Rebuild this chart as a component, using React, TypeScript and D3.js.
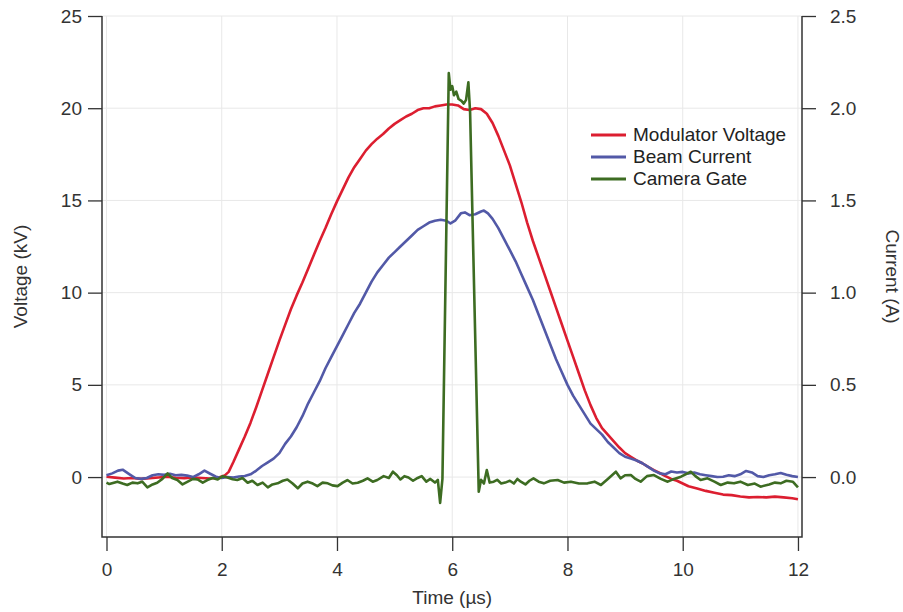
import { useEffect, useRef } from "react";
import * as d3 from "d3";

// tick values for the three axes
const timeTicks = [0, 2, 4, 6, 8, 10, 12];
const voltageTicks = [0, 5, 10, 15, 20, 25];
const currentTicks = [0, 0.5, 1.0, 1.5, 2.0, 2.5];

// [time (µs), voltage (kV)]
const modulatorVoltage: [number, number][] = [
  [0, 0.02], [0.15, -0.03], [0.3, -0.08], [0.45, -0.05], [0.6, -0.1], [0.75, -0.06],
  [0.9, -0.02], [1.05, 0.02], [1.2, -0.04], [1.35, -0.06], [1.5, -0.02], [1.65, -0.05],
  [1.8, -0.08], [1.95, -0.02], [2.05, 0.08], [2.12, 0.28], [2.2, 0.8], [2.3, 1.5],
  [2.4, 2.2], [2.5, 2.95], [2.6, 3.8], [2.7, 4.7], [2.8, 5.6], [2.9, 6.5], [3.0, 7.4],
  [3.1, 8.25], [3.2, 9.1], [3.3, 9.85], [3.4, 10.55], [3.5, 11.3], [3.6, 12.05],
  [3.7, 12.8], [3.8, 13.5], [3.9, 14.25], [4.0, 14.95], [4.1, 15.6], [4.2, 16.25],
  [4.3, 16.8], [4.4, 17.25], [4.5, 17.7], [4.6, 18.05], [4.7, 18.35], [4.8, 18.6],
  [4.9, 18.9], [5.0, 19.15], [5.1, 19.35], [5.2, 19.55], [5.3, 19.7], [5.4, 19.9],
  [5.5, 20.0], [5.6, 20.0], [5.7, 20.1], [5.8, 20.15], [5.9, 20.2], [6.0, 20.2],
  [6.1, 20.15], [6.2, 19.95], [6.3, 19.9], [6.4, 20.0], [6.5, 19.95], [6.6, 19.7],
  [6.7, 19.2], [6.8, 18.5], [6.9, 17.7], [7.0, 16.9], [7.1, 15.9], [7.2, 14.9],
  [7.3, 13.8], [7.4, 12.8], [7.5, 11.9], [7.6, 11.0], [7.7, 10.1], [7.8, 9.2],
  [7.9, 8.3], [8.0, 7.4], [8.1, 6.5], [8.2, 5.6], [8.3, 4.7], [8.4, 3.9], [8.5, 3.2],
  [8.6, 2.65], [8.7, 2.3], [8.8, 1.95], [8.9, 1.6], [9.0, 1.3], [9.1, 1.1], [9.2, 0.9],
  [9.3, 0.75], [9.4, 0.55], [9.5, 0.38], [9.6, 0.22], [9.7, 0.05], [9.8, -0.1],
  [9.9, -0.2], [10.0, -0.35], [10.1, -0.5], [10.25, -0.62], [10.4, -0.75], [10.55, -0.85],
  [10.7, -0.95], [10.85, -0.98], [11.0, -1.05], [11.15, -1.1], [11.3, -1.08],
  [11.45, -1.1], [11.6, -1.06], [11.75, -1.1], [11.9, -1.15], [12.0, -1.2],
];

// [time (µs), current (A)]
const beamCurrent: [number, number][] = [
  [0, 0.01], [0.1, 0.02], [0.2, 0.035], [0.28, 0.04], [0.4, 0.015], [0.5, -0.005],
  [0.6, -0.01], [0.7, -0.005], [0.8, 0.01], [0.9, 0.015], [1.0, 0.012], [1.1, 0.018],
  [1.2, 0.01], [1.3, 0.012], [1.4, 0.008], [1.5, 0.0], [1.6, 0.015], [1.7, 0.035],
  [1.8, 0.018], [1.9, 0.002], [2.0, -0.005], [2.1, 0.0], [2.2, -0.002], [2.3, 0.003],
  [2.4, 0.006], [2.5, 0.015], [2.6, 0.035], [2.7, 0.06], [2.8, 0.08], [2.9, 0.1],
  [3.0, 0.13], [3.1, 0.18], [3.2, 0.22], [3.3, 0.27], [3.4, 0.33], [3.5, 0.4],
  [3.6, 0.46], [3.7, 0.52], [3.8, 0.59], [3.9, 0.65], [4.0, 0.71], [4.1, 0.77],
  [4.2, 0.83], [4.3, 0.89], [4.4, 0.94], [4.5, 1.0], [4.6, 1.06], [4.7, 1.11],
  [4.8, 1.15], [4.9, 1.19], [5.0, 1.22], [5.1, 1.25], [5.2, 1.28], [5.3, 1.31],
  [5.4, 1.34], [5.5, 1.36], [5.6, 1.38], [5.7, 1.39], [5.8, 1.395], [5.9, 1.39],
  [5.97, 1.375], [6.05, 1.39], [6.15, 1.43], [6.22, 1.435], [6.3, 1.42], [6.4, 1.425],
  [6.5, 1.44], [6.55, 1.445], [6.62, 1.43], [6.7, 1.4], [6.8, 1.35], [6.9, 1.29],
  [7.0, 1.23], [7.1, 1.17], [7.2, 1.1], [7.3, 1.03], [7.4, 0.96], [7.5, 0.88],
  [7.6, 0.8], [7.7, 0.72], [7.8, 0.64], [7.9, 0.57], [8.0, 0.5], [8.1, 0.44],
  [8.2, 0.39], [8.3, 0.34], [8.4, 0.29], [8.5, 0.26], [8.6, 0.23], [8.7, 0.19],
  [8.8, 0.16], [8.9, 0.13], [9.0, 0.11], [9.1, 0.1], [9.2, 0.09], [9.3, 0.075],
  [9.4, 0.055], [9.5, 0.035], [9.6, 0.02], [9.7, 0.015], [9.8, 0.03], [9.9, 0.025],
  [10.0, 0.028], [10.1, 0.02], [10.2, 0.025], [10.3, 0.015], [10.4, 0.01], [10.5, 0.005],
  [10.6, 0.0], [10.7, 0.002], [10.8, 0.01], [10.9, 0.005], [11.0, 0.015], [11.1, 0.033],
  [11.2, 0.025], [11.3, 0.005], [11.4, 0.0], [11.5, 0.01], [11.6, 0.015], [11.7, 0.022],
  [11.8, 0.012], [11.9, 0.005], [12.0, 0.0],
];

// [time (µs), gate signal in kV units]
const cameraGate: [number, number][] = [
  [0, -0.3], [0.05, -0.38], [0.19, -0.25], [0.28, -0.35], [0.36, -0.43], [0.45, -0.3],
  [0.54, -0.34], [0.62, -0.25], [0.71, -0.56], [0.8, -0.4], [0.88, -0.31], [0.97, -0.1],
  [1.06, 0.2], [1.14, -0.05], [1.23, -0.16], [1.32, -0.4], [1.41, -0.25], [1.5, -0.1],
  [1.58, -0.13], [1.67, -0.3], [1.75, -0.16], [1.84, -0.05], [1.93, -0.13], [2.02, 0.05],
  [2.1, -0.02], [2.19, -0.12], [2.27, -0.16], [2.36, -0.05], [2.45, -0.31], [2.53, -0.2],
  [2.62, -0.43], [2.71, -0.3], [2.8, -0.56], [2.88, -0.4], [2.97, -0.34], [3.06, -0.2],
  [3.14, -0.13], [3.23, -0.35], [3.32, -0.61], [3.4, -0.35], [3.49, -0.25], [3.58, -0.35],
  [3.66, -0.49], [3.75, -0.3], [3.84, -0.34], [3.92, -0.45], [4.01, -0.49], [4.1, -0.3],
  [4.18, -0.16], [4.27, -0.35], [4.36, -0.31], [4.45, -0.2], [4.53, -0.07], [4.62, -0.25],
  [4.7, -0.16], [4.81, 0.05], [4.9, -0.05], [4.97, 0.29], [5.04, 0.1], [5.1, -0.13],
  [5.17, 0.05], [5.24, -0.02], [5.32, -0.2], [5.4, -0.05], [5.47, 0.05], [5.55, -0.25],
  [5.62, -0.1], [5.7, -0.3], [5.75, -0.15], [5.79, -1.4], [5.83, -0.1], [5.94, 21.9],
  [5.97, 21.0], [6.0, 21.2], [6.03, 20.7], [6.07, 20.9], [6.11, 20.5], [6.16, 20.4],
  [6.2, 20.25], [6.24, 20.45], [6.28, 21.4], [6.31, 19.8], [6.46, -0.8], [6.5, -0.15],
  [6.55, -0.35], [6.6, 0.38], [6.65, -0.3], [6.72, -0.25], [6.78, -0.15], [6.85, -0.35],
  [6.92, -0.3], [7.0, -0.2], [7.07, -0.35], [7.13, -0.1], [7.19, -0.25], [7.27, -0.4],
  [7.34, -0.2], [7.41, -0.07], [7.5, -0.25], [7.59, -0.34], [7.7, -0.2], [7.83, -0.16],
  [7.94, -0.3], [8.06, -0.25], [8.2, -0.35], [8.35, -0.34], [8.47, -0.25], [8.58, -0.43],
  [8.7, -0.1], [8.84, 0.29], [8.92, -0.07], [9.0, 0.1], [9.1, 0.11], [9.18, -0.1],
  [9.27, -0.25], [9.38, 0.05], [9.5, 0.11], [9.62, -0.1], [9.74, -0.25], [9.85, -0.1],
  [9.97, 0.02], [10.05, 0.15], [10.14, 0.29], [10.22, 0.05], [10.31, -0.16], [10.43, -0.07],
  [10.55, -0.25], [10.66, -0.43], [10.78, -0.3], [10.89, -0.34], [11.0, -0.25], [11.13, -0.43],
  [11.25, -0.35], [11.35, -0.52], [11.5, -0.4], [11.6, -0.3], [11.7, -0.34], [11.8, -0.2],
  [11.91, -0.25], [12.0, -0.56],
];

const seriesNames = ["Modulator Voltage", "Beam Current", "Camera Gate"];
const seriesColors = ["#dc1e30", "#5259a7", "#3d6c22"];

const FONT = "'Liberation Sans', Arial, Helvetica, sans-serif";
const FONT_SIZE = "19px";

export default function App() {
  const svgRef = useRef<SVGSVGElement | null>(null);

  useEffect(() => {
    if (!svgRef.current) return;
    document.body.style.margin = "0";

    const svg = d3.select(svgRef.current);
    svg.selectAll("*").remove();

    // plot frame
    const left = 102, right = 802, top = 16, bottom = 537;

    const x = d3.scaleLinear().domain([-0.078, 12.07]).range([left, right]);
    const yV = d3.scaleLinear().domain([-3.25, 25]).range([bottom, top]);
    const yA = d3.scaleLinear().domain([-0.325, 2.5]).range([bottom, top]);

    const ink = "#333";

    // grid
    const grid = svg.append("g").attr("stroke", "#e8e8e8").attr("stroke-width", 1);
    grid.selectAll("line.gx")
      .data(timeTicks)
      .enter()
      .append("line")
      .attr("x1", d => x(d)).attr("x2", d => x(d))
      .attr("y1", top).attr("y2", bottom);
    grid.selectAll("line.gy")
      .data(voltageTicks)
      .enter()
      .append("line")
      .attr("x1", left).attr("x2", right)
      .attr("y1", d => yV(d)).attr("y2", d => yV(d));

    // axes
    const styleAxis = (g: d3.Selection<SVGGElement, unknown, null, undefined>) => {
      g.select(".domain").remove();
      g.selectAll(".tick line").attr("stroke", ink).attr("stroke-width", 1.3);
      g.selectAll(".tick text")
        .attr("fill", ink)
        .style("font-family", FONT)
        .style("font-size", FONT_SIZE);
    };

    svg.append("g")
      .attr("transform", `translate(${left},0)`)
      .call(d3.axisLeft(yV).tickValues(voltageTicks).tickSize(14).tickPadding(6).tickFormat(d3.format("d")))
      .call(styleAxis);

    svg.append("g")
      .attr("transform", `translate(${right},0)`)
      .call(d3.axisRight(yA).tickValues(currentTicks).tickSize(14).tickPadding(14).tickFormat(d3.format(".1f")))
      .call(styleAxis);

    svg.append("g")
      .attr("transform", `translate(0,${bottom})`)
      .call(d3.axisBottom(x).tickValues(timeTicks).tickSize(14).tickPadding(12).tickFormat(d3.format("d")))
      .call(styleAxis);

    // frame lines (left, bottom, right)
    svg.append("path")
      .attr("d", `M${left},${top}V${bottom}H${right}V${top}`)
      .attr("fill", "none")
      .attr("stroke", ink)
      .attr("stroke-width", 1.5);

    // axis titles
    svg.append("text")
      .attr("transform", `translate(27,${(top + bottom) / 2}) rotate(-90)`)
      .attr("text-anchor", "middle")
      .attr("fill", ink)
      .style("font-family", FONT)
      .style("font-size", FONT_SIZE)
      .text("Voltage (kV)");

    svg.append("text")
      .attr("transform", `translate(886,${(top + bottom) / 2}) rotate(90)`)
      .attr("text-anchor", "middle")
      .attr("fill", ink)
      .style("font-family", FONT)
      .style("font-size", FONT_SIZE)
      .text("Current (A)");

    svg.append("text")
      .attr("x", x(6))
      .attr("y", 604)
      .attr("text-anchor", "middle")
      .attr("fill", ink)
      .style("font-family", FONT)
      .style("font-size", FONT_SIZE)
      .text("Time (µs)");

    // curves
    const lineV = d3.line<[number, number]>().x(d => x(d[0])).y(d => yV(d[1]));
    const lineA = d3.line<[number, number]>().x(d => x(d[0])).y(d => yA(d[1]));

    const curves = [lineV(modulatorVoltage), lineA(beamCurrent), lineV(cameraGate)];
    curves.forEach((d, i) => {
      svg.append("path")
        .attr("d", d)
        .attr("fill", "none")
        .attr("stroke", seriesColors[i])
        .attr("stroke-width", 2.6)
        .attr("stroke-linejoin", "round");
    });

    // legend
    const legend = svg.append("g").attr("transform", "translate(591,135)");
    const rows = legend.selectAll("g")
      .data(seriesNames)
      .enter()
      .append("g")
      .attr("transform", (d, i) => `translate(0,${i * 22})`);
    rows.append("line")
      .attr("x1", 0).attr("x2", 35)
      .attr("stroke", (d, i) => seriesColors[i])
      .attr("stroke-width", 3);
    rows.append("text")
      .attr("x", 42)
      .attr("y", 6)
      .attr("fill", "#222")
      .style("font-family", FONT)
      .style("font-size", FONT_SIZE)
      .text(d => d);
  }, []);

  return <svg ref={svgRef} width={903} height={612} style={{ display: "block", background: "#fff" }} />;
}
